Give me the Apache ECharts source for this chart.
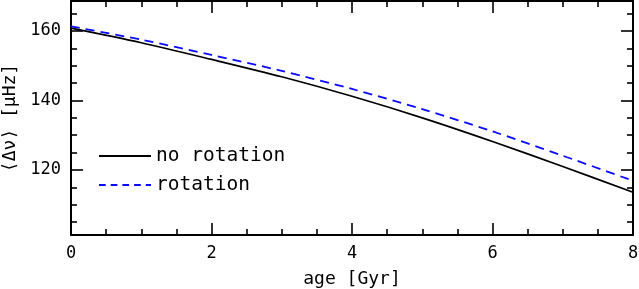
<!DOCTYPE html>
<html>
<head>
<meta charset="utf-8">
<script src="https://cdn.jsdelivr.net/npm/echarts@6/dist/echarts.min.js"></script>
<style>html,body{margin:0;padding:0;background:#fff}#c{width:639px;height:289px}</style>
</head>
<body>
<div id="c"></div>
<script>
const ages = [0, 1, 2, 3, 4, 5, 6, 7, 8];
const noRotation = [160.8, 156.6, 151.8, 146.8, 141.2, 135.0, 128.2, 121.0, 113.6];
const rotation = [161.3, 157.5, 153.1, 148.5, 143.3, 137.5, 131.1, 124.1, 116.9];
const xMajor = [0, 2, 4, 6, 8];
const xMinor = [0.5, 1, 1.5, 2.5, 3, 3.5, 4.5, 5, 5.5, 6.5, 7, 7.5];
const yMajor = [120, 140, 160];
const yMinor = [105, 110, 115, 125, 130, 135, 145, 150, 155, 165];
const seriesNames = ['no rotation', 'rotation'];
const xName = 'age [Gyr]';
const yName = '⟨Δν⟩ [μHz]';

const FONT = 'DejaVu Sans Mono';
const X_MIN = 0, X_MAX = 8, Y_MIN = 101.3, Y_MAX = 168.6;

function xAx(pos, ticks, len, labels, line) {
  return {
    type: 'value', position: pos, min: X_MIN, max: X_MAX,
    axisLine: {show: line, onZero: false, lineStyle: {color: '#000', width: 2}},
    axisTick: {show: true, inside: true, length: len, customValues: ticks, lineStyle: {color: '#000', width: 1.6}},
    axisLabel: {show: labels, customValues: ticks, margin: 10, color: '#000', fontFamily: FONT, fontSize: 17},
    splitLine: {show: false}
  };
}
function yAx(pos, ticks, len, labels, line) {
  return {
    type: 'value', position: pos, min: Y_MIN, max: Y_MAX,
    axisLine: {show: line, onZero: false, lineStyle: {color: '#000', width: 2}},
    axisTick: {show: true, inside: true, length: len, customValues: ticks, lineStyle: {color: '#000', width: 1.6}},
    axisLabel: {show: labels, customValues: ticks, margin: 10, color: '#000', fontFamily: FONT, fontSize: 17},
    splitLine: {show: false}
  };
}

const xAxes = [
  Object.assign(xAx('bottom', xMajor, 12, true, true), {
    name: xName, nameLocation: 'middle', nameGap: 35,
    nameTextStyle: {color: '#000', fontFamily: FONT, fontSize: 18}
  }),
  xAx('bottom', xMinor, 6, false, false),
  xAx('top', xMajor, 12, false, true),
  xAx('top', xMinor, 6, false, false)
];
const yAxes = [
  Object.assign(yAx('left', yMajor, 12, true, true), {
    name: yName, nameLocation: 'middle', nameGap: 50,
    nameTextStyle: {color: '#000', fontFamily: FONT, fontSize: 18}
  }),
  yAx('left', yMinor, 6, false, false),
  yAx('right', yMajor, 12, false, true),
  yAx('right', yMinor, 6, false, false)
];

const chart = echarts.init(document.getElementById('c'), null, {renderer: 'canvas'});
chart.setOption({
  animation: false,
  backgroundColor: '#fff',
  grid: {left: 71, right: 6, top: 1, bottom: 54, containLabel: false, outerBoundsMode: 'none'},
  xAxis: xAxes,
  yAxis: yAxes,
  legend: {
    show: true, padding: 0,
    orient: 'vertical', left: 98, top: 146,
    itemWidth: 52, itemHeight: 20, itemGap: 9,
    itemStyle: {opacity: 0},
    textStyle: {color: '#000', fontFamily: FONT, fontSize: 19.5},
    data: [
      {name: seriesNames[0]},
      {name: seriesNames[1], lineStyle: {type: [6.7, 5]}}
    ]
  },
  series: [
    {
      name: seriesNames[0], type: 'line', xAxisIndex: 0, yAxisIndex: 0,
      data: ages.map((a, i) => [a, noRotation[i]]),
      smooth: 0.3, symbol: 'none',
      lineStyle: {color: '#000', width: 1.7}, itemStyle: {color: '#000'}
    },
    {
      name: seriesNames[1], type: 'line', xAxisIndex: 0, yAxisIndex: 0,
      data: ages.map((a, i) => [a, rotation[i]]),
      smooth: 0.3, symbol: 'none',
      lineStyle: {color: '#0a0aff', width: 1.8, type: [9, 6]}, itemStyle: {color: '#0a0aff'}
    }
  ]
});
</script>
</body>
</html>
